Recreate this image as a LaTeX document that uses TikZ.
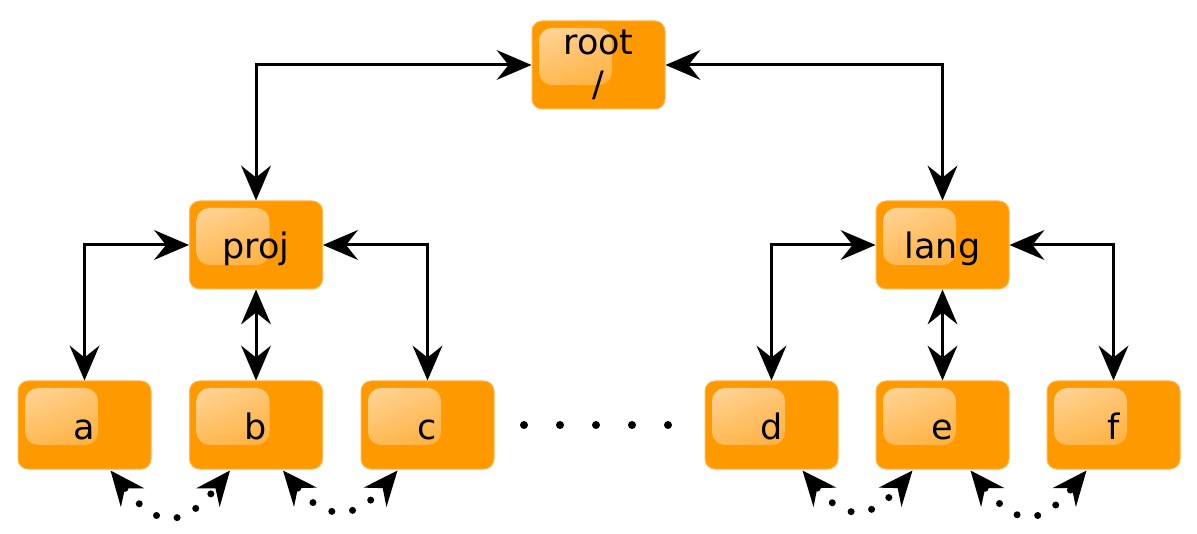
\documentclass[tikz,border=0pt]{standalone}
\usepackage{fontspec}
\setmainfont{DejaVu Sans}
\usetikzlibrary{arrows.meta,calc,shadings}
\definecolor{nodeor}{RGB}{255,153,0}
\definecolor{glossul}{RGB}{255,218,165}
\definecolor{glossur}{RGB}{255,188,95}
\definecolor{glossll}{RGB}{255,176,60}
\definecolor{glosslr}{RGB}{255,162,25}
\begin{document}
\begin{tikzpicture}[x=1pt,y=-1pt,
  tipA/.tip={Stealth[length=35pt,width=30pt,inset=12pt,line width=0pt]},
  boxbase/.style={rounded corners=10pt, fill=nodeor, draw=nodeor!70!white, line width=1pt,
    minimum width=133pt, minimum height=88pt, inner sep=0pt,
    font=\fontsize{35}{42}\selectfont, align=center,
    path picture={\shade[rounded corners=13pt, upper left=glossul, upper right=glossur,
      lower left=glossll, lower right=glosslr]
      ($(path picture bounding box.north west)+(7,7)$) rectangle +(73,57);}},
  box/.style={boxbase, text height=30pt, text depth=2pt},
  link/.style={line width=3pt, tipA-tipA},
  dotlink/.style={line width=7pt, line cap=round, dash pattern=on 0pt off 21pt, tipA-tipA},
  bigdot/.style={fill=black}
]
\useasboundingbox (0,0) rectangle (1197,534);

\node[boxbase] (root) at (598.5,65) {\raisebox{-2pt}{root}\\\raisebox{-2pt}{/}};
\node[box] (proj) at (256,245) {proj};
\node[box] (lang) at (942.5,245) {lang};
\node[box] (a) at (84.5,425) {a};
\node[box] (b) at (256,425) {b};
\node[box] (c) at (427.5,425) {c};
\node[box] (d) at (771.5,425) {d};
\node[box] (e) at (942.5,425) {e};
\node[box] (f) at (1113.5,425) {f};

\draw[link] (root.west) -| (proj.north);
\draw[link] (root.east) -| (lang.north);
\draw[link] (proj.west) -| (a.north);
\draw[link] (proj.east) -| (c.north);
\draw[link] (proj.south) -- (b.north);
\draw[link] (lang.west) -| (d.north);
\draw[link] (lang.east) -| (f.north);
\draw[link] (lang.south) -- (e.north);

\foreach \x in {524,560,596,632,668} \fill[bigdot] (\x,425) circle (4);

\draw[dotlink] ($(a.south east)+(-41,1)$) .. controls +(47,58) and +(-47,58) .. ($(b.south west)+(41,1)$);
\draw[dotlink] ($(b.south east)+(-40,1)$) .. controls +(42,50) and +(-42,50) .. ($(c.south west)+(37,1)$);
\draw[dotlink] ($(d.south east)+(-36,1)$) .. controls +(42,50) and +(-42,50) .. ($(e.south west)+(37,1)$);
\draw[dotlink] ($(e.south east)+(-39,1)$) .. controls +(46,56) and +(-46,56) .. ($(f.south west)+(40,1)$);
\end{tikzpicture}
\end{document}
